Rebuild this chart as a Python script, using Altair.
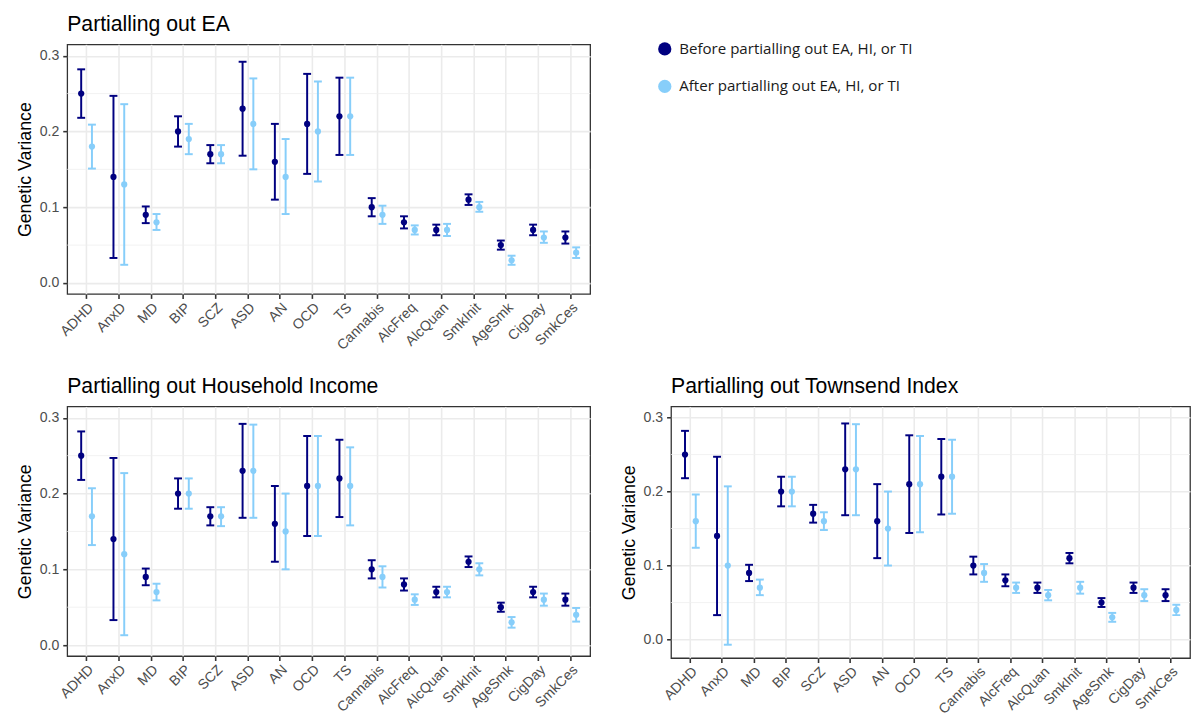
import altair as alt
import pandas as pd

traits = ["ADHD", "AnxD", "MD", "BIP", "SCZ", "ASD", "AN", "OCD", "TS",
          "Cannabis", "AlcFreq", "AlcQuan", "SmkInit", "AgeSmk", "CigDay", "SmkCes"]

BEFORE = "Before partialling out EA, HI, or TI"
AFTER = "After partialling out EA, HI, or TI"

before_est = [0.25, 0.14, 0.09, 0.20, 0.17, 0.23, 0.16, 0.21, 0.22, 0.10, 0.08, 0.07, 0.11, 0.05, 0.07, 0.06]
before_lo = [0.218, 0.033, 0.079, 0.180, 0.158, 0.168, 0.110, 0.144, 0.169, 0.088, 0.072, 0.063, 0.103, 0.044, 0.063, 0.052]
before_hi = [0.282, 0.247, 0.101, 0.220, 0.182, 0.292, 0.210, 0.276, 0.271, 0.112, 0.088, 0.077, 0.117, 0.056, 0.077, 0.068]

ea_est = [0.18, 0.13, 0.08, 0.19, 0.17, 0.21, 0.14, 0.20, 0.22, 0.09, 0.07, 0.07, 0.10, 0.03, 0.06, 0.04]
ea_lo = [0.151, 0.024, 0.070, 0.170, 0.158, 0.150, 0.091, 0.134, 0.169, 0.078, 0.064, 0.062, 0.094, 0.024, 0.053, 0.033]
ea_hi = [0.209, 0.236, 0.091, 0.210, 0.182, 0.270, 0.190, 0.266, 0.271, 0.102, 0.076, 0.078, 0.107, 0.036, 0.068, 0.047]

hi_est = [0.17, 0.12, 0.07, 0.20, 0.17, 0.23, 0.15, 0.21, 0.21, 0.09, 0.06, 0.07, 0.10, 0.03, 0.06, 0.04]
hi_lo = [0.132, 0.013, 0.059, 0.180, 0.157, 0.168, 0.100, 0.144, 0.158, 0.076, 0.053, 0.063, 0.092, 0.023, 0.052, 0.031]
hi_hi = [0.207, 0.227, 0.081, 0.220, 0.182, 0.291, 0.200, 0.276, 0.261, 0.104, 0.067, 0.077, 0.108, 0.037, 0.068, 0.049]

ti_est = [0.16, 0.10, 0.07, 0.20, 0.16, 0.23, 0.15, 0.21, 0.22, 0.09, 0.07, 0.06, 0.07, 0.03, 0.06, 0.04]
ti_lo = [0.124, -0.007, 0.060, 0.180, 0.148, 0.168, 0.100, 0.145, 0.170, 0.078, 0.063, 0.053, 0.062, 0.024, 0.052, 0.033]
ti_hi = [0.196, 0.207, 0.081, 0.220, 0.172, 0.291, 0.200, 0.275, 0.270, 0.102, 0.077, 0.067, 0.078, 0.036, 0.068, 0.047]

y_ticks = [0.0, 0.1, 0.2, 0.3]
minor_ticks = [0.05, 0.15, 0.25]

FONT = "Liberation Sans"


def panel(title, est, lo, hi, domain, width, height):
    df = pd.DataFrame({
        "trait": traits * 2,
        "status": [BEFORE] * len(traits) + [AFTER] * len(traits),
        "est": before_est + est,
        "lo": before_lo + lo,
        "hi": before_hi + hi,
    })
    yscale = alt.Scale(domain=domain, nice=False, zero=False)
    x = alt.X("trait:N", sort=traits, title=None,
              scale=alt.Scale(paddingInner=0, paddingOuter=0.1),
              axis=alt.Axis(labelAngle=-45, bandPosition=0.5, grid=True, labelPadding=2))
    xo = alt.XOffset("status:N", sort=[BEFORE, AFTER],
                     scale=alt.Scale(type="point", padding=1.54))
    color = alt.Color("status:N", sort=[BEFORE, AFTER],
                      scale=alt.Scale(domain=[BEFORE, AFTER], range=["#000080", "#87CEFA"]),
                      legend=alt.Legend(title=None, orient="none", legendX=598, legendY=-3,
                                        symbolType="circle", symbolSize=180,
                                        symbolStrokeWidth=0, rowPadding=22,
                                        labelFont="Open Sans", labelFontSize=15.3,
                                        labelLimit=0,
                                        labelColor="#1a1a1a", labelOffset=7, padding=0))
    base = alt.Chart(df).encode(x=x, xOffset=xo, color=color)
    minor = alt.Chart(pd.DataFrame({"v": minor_ticks})).mark_rule(
        color="#EEEEEE", strokeWidth=0.8).encode(y=alt.Y("v:Q", scale=yscale))
    rules = base.mark_rule(strokeWidth=2).encode(
        y=alt.Y("lo:Q", scale=yscale, title="Genetic Variance",
                axis=alt.Axis(values=y_ticks, format=".1f", grid=True,
                              labelPadding=4, titlePadding=5)),
        y2="hi:Q")
    cap_lo = base.mark_tick(size=8, thickness=2, opacity=1).encode(y=alt.Y("lo:Q", scale=yscale))
    cap_hi = base.mark_tick(size=8, thickness=2, opacity=1).encode(y=alt.Y("hi:Q", scale=yscale))
    pts = base.mark_point(filled=True, size=40, opacity=1).encode(y=alt.Y("est:Q", scale=yscale))
    return alt.layer(minor, rules, cap_lo, cap_hi, pts).properties(
        width=width, height=height,
        title=alt.TitleParams(title, anchor="start", frame="group", fontSize=21.5,
                              font=FONT, fontWeight="normal", color="#000000", offset=9))


p1 = panel("Partialling out EA", ea_est, ea_lo, ea_hi, [-0.0145, 0.315], 530, 253)
p2 = panel("Partialling out Household Income", hi_est, hi_lo, hi_hi, [-0.0145, 0.315], 530, 253)
p3 = panel("Partialling out Townsend Index", ti_est, ti_lo, ti_hi, [-0.025, 0.315], 526, 255)

chart = alt.vconcat(p1, alt.hconcat(p2, p3, spacing=27), spacing=22).properties(
    padding={"left": 7, "top": 0, "right": 0, "bottom": 0},
    background="white"
).configure_view(
    stroke="#333333", strokeWidth=1.3
).configure_axis(
    labelFont=FONT, labelFontSize=14.3, labelColor="#4D4D4D",
    titleFont=FONT, titleFontSize=18, titleFontWeight="normal", titleColor="#000000",
    gridColor="#EBEBEB", gridWidth=1.6, domain=False,
    tickColor="#333333", tickWidth=1.6, tickSize=4.5
)

chart.save("out.html", embed_options={"renderer": "svg", "actions": False})
